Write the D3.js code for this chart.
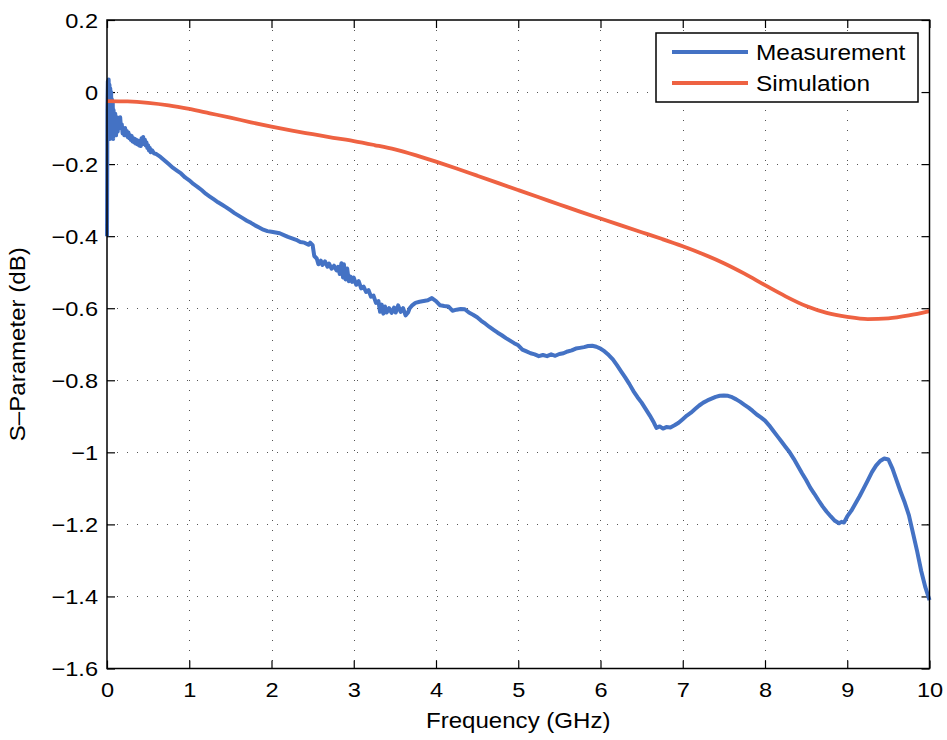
<!DOCTYPE html>
<html><head><meta charset="utf-8">
<script src="https://cdn.jsdelivr.net/npm/d3@7"></script>
<style>body{margin:0;background:#fff}</style>
</head><body>
<svg id="chart" width="947" height="740"></svg>
<script>
// ---- data ----
const xTicks = [0,1,2,3,4,5,6,7,8,9,10];
const yTicks = [0.2,0,-0.2,-0.4,-0.6,-0.8,-1,-1.2,-1.4,-1.6];
const seriesNames = ["Measurement","Simulation"];

const simF = [0,0.25,0.5,0.75,1,1.25,1.5,1.75,2,2.25,2.5,2.75,3,3.25,3.5,3.75,4,4.25,4.5,4.75,5,5.25,5.5,5.75,6,6.25,6.5,6.75,7,7.25,7.5,7.75,8,8.25,8.5,8.75,9,9.25,9.5,9.75,10];
const simV = [-0.025,-0.026,-0.03,-0.037,-0.047,-0.059,-0.071,-0.084,-0.096,-0.107,-0.117,-0.127,-0.136,-0.147,-0.159,-0.175,-0.193,-0.212,-0.232,-0.252,-0.272,-0.292,-0.312,-0.332,-0.351,-0.37,-0.389,-0.408,-0.428,-0.45,-0.475,-0.504,-0.536,-0.567,-0.594,-0.613,-0.624,-0.63,-0.628,-0.62,-0.608];

const measF = [0,0.005,0.01,0.015,0.02,0.025,0.03,0.035,0.04,0.045,0.05,0.055,0.06,0.065,0.07,0.075,0.08,0.09,0.1,0.11,0.12,0.13,0.14,0.15,0.16,0.17,0.18,0.19,
0.2,0.21,0.22,0.23,0.24,0.25,0.26,0.27,0.28,0.29,0.3,0.31,0.32,0.33,0.34,0.35,0.36,0.37,0.38,0.39,0.4,0.41,0.42,0.43,0.44,0.45,0.46,0.47,0.48,0.49,0.5,0.51,0.52,0.53,0.55,0.57,
0.6,0.65,0.7,0.75,0.8,0.85,0.9,0.95,1,1.05,1.1,1.15,1.2,1.25,1.3,1.35,1.4,1.45,1.5,1.55,1.6,1.65,1.7,1.75,1.8,1.85,1.9,1.95,2,2.05,2.1,2.15,2.2,2.25,2.3,2.35,2.4,2.45,2.47,2.5,2.52,
2.55,2.57,2.6,2.62,2.65,2.68,2.7,2.73,2.76,2.79,2.81,2.83,2.85,2.87,2.88,2.9,2.92,2.94,2.96,2.98,3,3.03,3.06,3.09,3.12,3.15,3.18,3.21,3.24,3.27,3.3,3.32,3.34,3.36,3.38,3.4,3.43,3.46,3.49,3.51,3.54,3.57,3.6,3.63,3.66,3.68,3.71,
3.75,3.8,3.85,3.9,3.95,4,4.05,4.1,4.15,4.2,4.25,4.3,4.35,4.4,4.45,4.5,4.55,4.6,4.65,4.7,4.75,4.8,4.85,4.9,4.95,5,5.05,5.1,5.15,5.2,5.25,5.3,5.35,5.4,5.45,5.5,5.55,5.6,5.65,5.7,5.75,5.8,5.85,5.9,5.95,6,6.05,6.1,6.15,6.2,6.25,6.3,6.35,6.4,6.45,6.5,6.55,6.6,6.65,6.68,6.72,6.76,6.8,6.85,6.9,6.95,7,7.05,7.1,7.15,7.2,7.25,7.3,7.35,7.4,7.45,7.5,7.55,7.6,7.65,7.7,7.75,7.8,7.85,7.9,7.95,8,8.05,8.1,8.15,8.2,8.25,8.3,8.35,8.4,8.45,8.5,8.55,8.6,8.65,8.7,8.75,8.8,8.85,8.9,8.93,8.96,9,9.05,9.1,9.15,9.2,9.25,9.3,9.35,9.4,9.45,9.5,9.55,9.6,9.65,9.7,9.75,9.8,9.85,9.9,9.95,10];
const measV = [-0.40,-0.05,0.03,-0.12,0.035,-0.08,0.02,-0.13,0.01,-0.10,0.0,-0.12,-0.02,-0.11,-0.03,-0.13,-0.05,-0.10,-0.06,-0.12,-0.07,-0.11,-0.08,-0.10,-0.07,-0.10,-0.09,-0.115,
-0.105,-0.12,-0.1,-0.118,-0.108,-0.125,-0.112,-0.128,-0.12,-0.133,-0.122,-0.137,-0.128,-0.14,-0.13,-0.143,-0.133,-0.145,-0.135,-0.148,-0.138,-0.15,-0.128,-0.145,-0.125,-0.142,-0.132,-0.148,-0.14,-0.155,-0.148,-0.162,-0.155,-0.167,-0.162,-0.17,
-0.172,-0.18,-0.19,-0.2,-0.21,-0.218,-0.226,-0.237,-0.245,-0.255,-0.263,-0.272,-0.282,-0.29,-0.298,-0.306,-0.313,-0.32,-0.328,-0.336,-0.343,-0.35,-0.357,-0.363,-0.37,-0.376,-0.382,-0.386,-0.388,-0.39,-0.392,-0.397,-0.402,-0.406,-0.41,-0.416,-0.418,-0.424,-0.418,-0.425,-0.455,
-0.462,-0.478,-0.468,-0.48,-0.47,-0.485,-0.476,-0.49,-0.482,-0.495,-0.485,-0.505,-0.475,-0.515,-0.478,-0.52,-0.49,-0.525,-0.512,-0.527,-0.515,-0.535,-0.525,-0.545,-0.54,-0.555,-0.55,-0.568,-0.565,-0.585,-0.58,-0.61,-0.59,-0.615,-0.595,-0.612,-0.6,-0.613,-0.598,-0.612,-0.592,-0.61,-0.6,-0.62,-0.612,-0.6,-0.592,
-0.585,-0.582,-0.58,-0.578,-0.572,-0.58,-0.592,-0.594,-0.595,-0.607,-0.604,-0.602,-0.603,-0.612,-0.618,-0.625,-0.635,-0.643,-0.652,-0.66,-0.668,-0.675,-0.683,-0.69,-0.697,-0.703,-0.715,-0.72,-0.725,-0.728,-0.733,-0.73,-0.733,-0.728,-0.732,-0.727,-0.725,-0.72,-0.717,-0.712,-0.71,-0.708,-0.705,-0.704,-0.707,-0.712,-0.72,-0.73,-0.742,-0.758,-0.775,-0.792,-0.81,-0.83,-0.847,-0.862,-0.88,-0.898,-0.918,-0.932,-0.928,-0.934,-0.93,-0.931,-0.925,-0.918,-0.908,-0.898,-0.89,-0.88,-0.87,-0.862,-0.856,-0.851,-0.846,-0.843,-0.842,-0.843,-0.847,-0.853,-0.86,-0.868,-0.876,-0.885,-0.895,-0.903,-0.912,-0.925,-0.94,-0.955,-0.97,-0.985,-1.0,-1.018,-1.038,-1.058,-1.077,-1.098,-1.115,-1.133,-1.15,-1.165,-1.178,-1.19,-1.197,-1.193,-1.195,-1.178,-1.162,-1.142,-1.122,-1.1,-1.078,-1.055,-1.037,-1.024,-1.017,-1.02,-1.045,-1.078,-1.11,-1.14,-1.175,-1.225,-1.275,-1.33,-1.375,-1.41];

// ---- layout ----
const L = 107, R = 929.5, T = 20, B = 668.5;
const FONT = "'Liberation Sans', Arial, Helvetica, sans-serif";
const blue = "#4472C4", orange = "#EE6242";
const STRETCH = 1.15;

const svg = d3.select("#chart");
const x = d3.scaleLinear().domain([0,10]).range([L,R]);
const y = d3.scaleLinear().domain([-1.6,0.2]).range([B,T]);

function stretch(sel, s) {
  sel.each(function() {
    const t = d3.select(this);
    const tx = +t.attr("x") || 0, ty = +t.attr("y") || 0;
    t.attr("transform", `translate(${tx},${ty}) scale(${s},1) translate(${-tx},${-ty})`);
  });
}

// grid
const grid = svg.append("g").attr("stroke","#555").attr("stroke-width",1).attr("stroke-dasharray","1,9");
grid.selectAll("line.gx").data(xTicks.slice(1,-1)).join("line")
  .attr("x1",d=>Math.round(x(d))+0.5).attr("x2",d=>Math.round(x(d))+0.5).attr("y1",T).attr("y2",B);
grid.selectAll("line.gy").data(yTicks.slice(1,-1)).join("line")
  .attr("y1",d=>Math.round(y(d))+0.5).attr("y2",d=>Math.round(y(d))+0.5).attr("x1",L).attr("x2",R);

// axes with inward ticks
const fmt = d => (d<0 ? "\u2212" : "") + d3.format("")(Math.abs(d));
const xAxis = d3.axisBottom(x).tickValues(xTicks).tickSize(-8).tickPadding(14).tickFormat(fmt);
const yAxis = d3.axisLeft(y).tickValues(yTicks).tickSize(-8).tickPadding(9).tickFormat(fmt);
const gx = svg.append("g").attr("transform",`translate(0,${B})`).call(xAxis);
const gy = svg.append("g").attr("transform",`translate(${L},0)`).call(yAxis);
const gxt = svg.append("g").attr("transform",`translate(0,${T})`).call(d3.axisTop(x).tickValues(xTicks).tickSize(-8).tickFormat(""));
const gyr = svg.append("g").attr("transform",`translate(${R},0)`).call(d3.axisRight(y).tickValues(yTicks).tickSize(-8).tickFormat(""));
[gx,gy,gxt,gyr].forEach(g=>{
  g.select(".domain").remove();
  g.selectAll(".tick line").attr("stroke","#000").attr("stroke-width",1.2);
  g.selectAll("text").attr("fill","#000").style("font-family",FONT).style("font-size","20.5px");
});
gx.selectAll("text").attr("dy","0.71em");
gy.selectAll("text").attr("dy","0.36em");
stretch(gx.selectAll("text"), STRETCH);
stretch(gy.selectAll("text"), STRETCH);

// lines
const line = d3.line().x(d=>x(d[0])).y(d=>y(d[1]));
svg.append("path").datum(measF.map((f,i)=>[f,measV[i]]))
  .attr("d",line).attr("fill","none").attr("stroke",blue).attr("stroke-width",4).attr("stroke-linejoin","round");
svg.append("path").datum(simF.map((f,i)=>[f,simV[i]]))
  .attr("d",line.curve(d3.curveMonotoneX)).attr("fill","none").attr("stroke",orange).attr("stroke-width",3.8);

// frame
svg.append("rect").attr("x",L).attr("y",T).attr("width",R-L).attr("height",B-T)
  .attr("fill","none").attr("stroke","#000").attr("stroke-width",1.5);

// axis titles
const xt = svg.append("text").attr("x",(L+R)/2).attr("y",728).attr("text-anchor","middle")
  .style("font-family",FONT).style("font-size","21.5px").text("Frequency (GHz)");
stretch(xt, 1.12);
svg.append("text").attr("transform",`translate(25,${(T+B)/2}) rotate(-90) scale(1.12,1)`).attr("text-anchor","middle")
  .style("font-family",FONT).style("font-size","21.5px").text("S\u2013Parameter (dB)");

// legend
const lg = svg.append("g");
lg.append("rect").attr("x",656).attr("y",33).attr("width",262).attr("height",69)
  .attr("fill","#fff").attr("stroke","#000").attr("stroke-width",1.5);
const colors = [blue, orange];
seriesNames.forEach((n,i)=>{
  const yy = 52 + i*31;
  lg.append("line").attr("x1",672).attr("x2",748).attr("y1",yy).attr("y2",yy)
    .attr("stroke",colors[i]).attr("stroke-width",3.8);
  const t = lg.append("text").attr("x",756).attr("y",yy+8).style("font-family",FONT).style("font-size","22px").text(n);
  stretch(t, 1.11);
});
</script>
</body></html>
